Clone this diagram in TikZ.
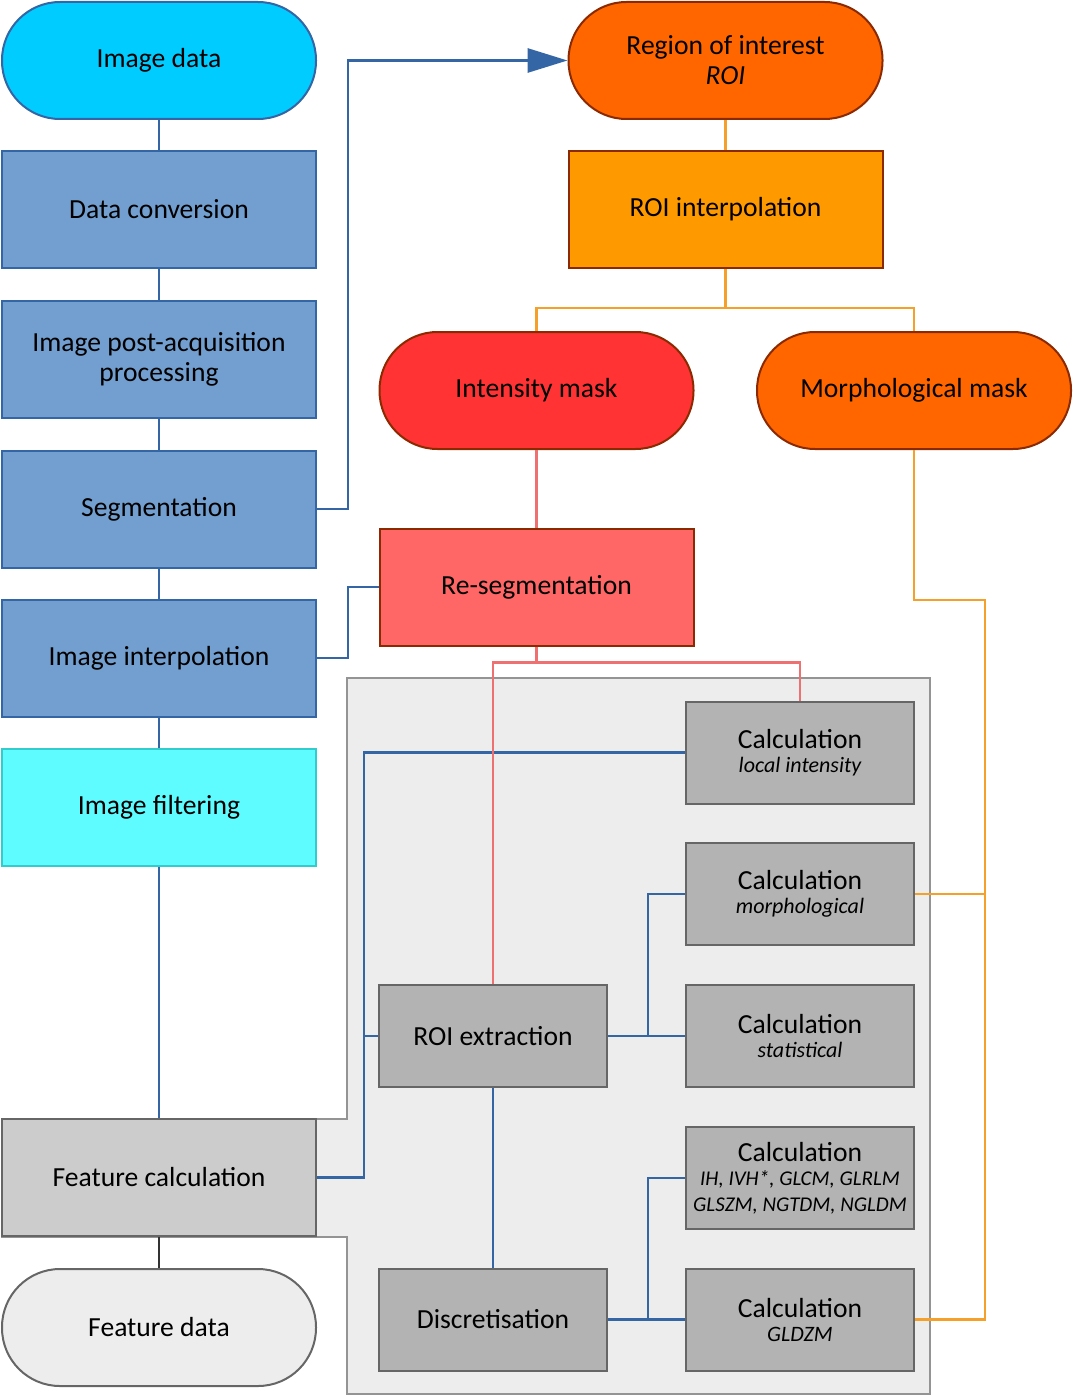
\documentclass[tikz,border=0pt]{standalone}
\usepackage{fontspec}
\setmainfont{Carlito}
\usepackage{xcolor}
\usepackage{tikz}
\usetikzlibrary{arrows.meta}
\definecolor{lineblue}{HTML}{3465A4}
\definecolor{boxblue}{HTML}{729FCF}
\definecolor{datacyan}{HTML}{00CCFF}
\definecolor{filtcyan}{HTML}{5FFCFF}
\definecolor{filtedge}{HTML}{33CCCC}
\definecolor{roiorange}{HTML}{FF6600}
\definecolor{interporange}{HTML}{FF9900}
\definecolor{maskred}{HTML}{FF3333}
\definecolor{resegred}{HTML}{FF6666}
\definecolor{darkedge}{HTML}{8B2A00}
\definecolor{lineorange}{HTML}{F5A02A}
\definecolor{linered}{HTML}{EF7070}
\definecolor{calcgrey}{HTML}{B3B3B3}
\definecolor{featgrey}{HTML}{CCCCCC}
\definecolor{panelgrey}{HTML}{EDEDED}
\definecolor{edgegrey}{HTML}{666666}
\newcommand{\calcsub}[1]{{\fontsize{11}{12}\selectfont\itshape #1}}
\newcommand{\calcsmall}[1]{{\fontsize{10.5}{11.5}\selectfont\itshape #1}}

\begin{document}
\begin{tikzpicture}[x=0.5pt,y=-0.5pt,
    box/.style={draw, line width=1pt, minimum width=157pt, minimum height=58.5pt,
        inner sep=0pt, align=center, font=\fontsize{13.8}{15}\selectfont},
    term/.style={box, rounded corners=29pt},
    calc/.style={box, fill=calcgrey, draw=edgegrey, minimum width=114pt, minimum height=51pt},
    bline/.style={draw=lineblue, line width=1.45pt},
    oline/.style={draw=lineorange, line width=1.45pt},
    rline/.style={draw=linered, line width=1.45pt}]
    \useasboundingbox (0,0) rectangle (1074,1396);
    % grey panel behind the feature calculation
    \draw[fill=panelgrey, draw=edgegrey!70, line width=0.75pt]
        (347,678) -- (930,678) -- (930,1394) -- (347,1394) -- (347,1237)
        -- (2,1237) -- (2,1119) -- (347,1119) -- cycle;
    % left column
    \node[term, fill=datacyan, draw=lineblue] (imgdata) at (159,60.5) {Image data};
    \node[box, fill=boxblue, draw=lineblue] (dataconv) at (159,209.5) {Data conversion};
    \node[box, fill=boxblue, draw=lineblue] (postacq) at (159,359) {Image post-acquisition\\processing};
    \node[box, fill=boxblue, draw=lineblue] (seg) at (159,509) {Segmentation};
    \node[box, fill=boxblue, draw=lineblue] (imginterp) at (159,658) {Image interpolation};
    \node[box, fill=filtcyan, draw=filtedge] (filter) at (159,807.5) {Image filtering};
    \node[box, fill=featgrey, draw=edgegrey] (featcalc) at (159,1177.5) {Feature calculation};
    \node[term, fill=panelgrey, draw=edgegrey] (featdata) at (159,1327.5) {Feature data};
    % roi branch
    \node[term, fill=roiorange, draw=darkedge] (roi) at (725.5,60.5) {Region of interest\\\textit{ROI}};
    \node[box, fill=interporange, draw=darkedge] (roiinterp) at (725.5,209.5) {ROI interpolation};
    \node[term, fill=maskred, draw=darkedge] (intmask) at (536.5,390.5) {Intensity mask};
    \node[term, fill=roiorange, draw=darkedge] (morphmask) at (914,390.5) {Morphological mask};
    \node[box, fill=resegred, draw=darkedge] (reseg) at (536.5,587) {Re-segmentation};
    % feature calculation steps
    \node[calc] (calcloc) at (800,752.5) {Calculation\\[-3pt]\calcsub{local intensity}};
    \node[calc] (calcmorph) at (800,894) {Calculation\\[-3pt]\calcsub{morphological}};
    \node[calc] (roiext) at (493,1036) {ROI extraction};
    \node[calc] (calcstat) at (800,1036) {Calculation\\[-3pt]\calcsub{statistical}};
    \node[calc] (calctex) at (800,1178) {Calculation\\[-3pt]\calcsmall{IH, IVH*, GLCM, GLRLM}\\[-2pt]\calcsmall{GLSZM, NGTDM, NGLDM}};
    \node[calc] (discr) at (493,1319.5) {Discretisation};
    \node[calc] (calcgldzm) at (800,1319.5) {Calculation\\[-3pt]\calcsub{GLDZM}};
    % blue connectors
    \draw[bline] (imgdata) -- (dataconv);
    \draw[bline] (dataconv) -- (postacq);
    \draw[bline] (postacq) -- (seg);
    \draw[bline] (seg) -- (imginterp);
    \draw[bline] (imginterp) -- (filter);
    \draw[bline] (filter) -- (featcalc);
    \draw[line width=1.45pt, draw=black!80] (featcalc) -- (featdata);
    \draw[bline, -{Triangle[length=20pt,width=12pt]}] (seg.east) -- ++(31,0) |- (roi.west);
    \draw[bline] (imginterp.east) -- ++(31,0) |- (reseg.west);
    \draw[bline] (featcalc.east) -- ++(47,0) |- (calcloc.west);
    \draw[bline] (roiext.west) -- ++(-15,0);
    \draw[bline] (roiext) -- (calcstat);
    \draw[bline] (roiext.east) ++(40,0) |- (calcmorph.west);
    \draw[bline] (roiext) -- (discr);
    \draw[bline] (discr) -- (calcgldzm);
    \draw[bline] (discr.east) ++(40,0) |- (calctex.west);
    % orange connectors
    \draw[oline] (roi) -- (roiinterp);
    \draw[oline] (roiinterp.south) -- ++(0,39) -| (intmask.north);
    \draw[oline] (roiinterp.south) ++(0,39) -| (morphmask.north);
    \draw[oline] (morphmask.south) -- ++(0,150) -- ++(71,0) |- (calcgldzm.east);
    \draw[oline] (calcmorph.east) -- ++(71,0);
    % red connectors
    \draw[rline] (intmask) -- (reseg);
    \draw[rline] (reseg.south) -- ++(0,16) -| (roiext.north);
    \draw[rline] (reseg.south) ++(0,16) -| (calcloc.north);
\end{tikzpicture}
\end{document}
